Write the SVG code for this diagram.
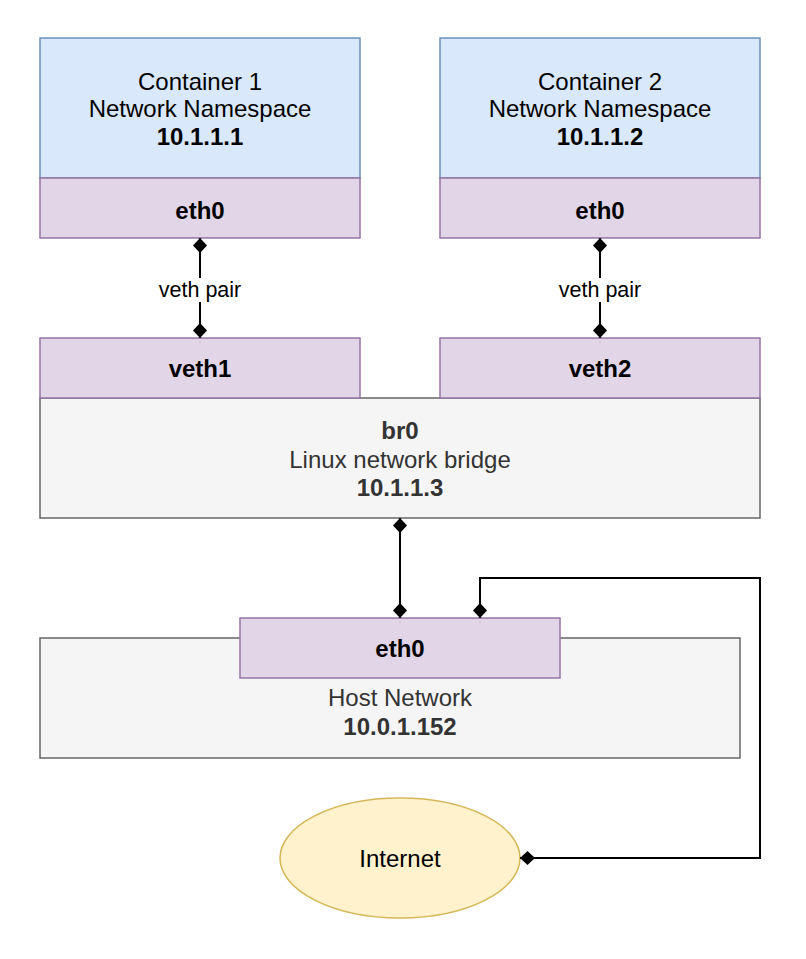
<svg xmlns="http://www.w3.org/2000/svg" width="806" height="959" viewBox="0 0 806 959">
<style>
text{font-family:"Liberation Sans",Arial,sans-serif;font-size:24px;text-anchor:middle;dominant-baseline:central;fill:#000}
.b{font-weight:bold}
.g{fill:#333333}
.blue{fill:#dae8fc;stroke:#6c8ebf;stroke-width:1.5}
.pur{fill:#e1d5e7;stroke:#9673a6;stroke-width:1.5}
.grey{fill:#f5f5f5;stroke:#666666;stroke-width:1.5}
.yel{fill:#fff2cc;stroke:#d6b656;stroke-width:1.5}
.edge{fill:none;stroke:#000;stroke-width:2}
.lbl{font-size:21.5px}
</style>
<defs>
<marker id="dia" viewBox="0 0 15 14" refX="15" refY="7" markerWidth="15" markerHeight="14" markerUnits="userSpaceOnUse" orient="auto-start-reverse">
<path d="M0,7 L7.5,0 L15,7 L7.5,14 Z" fill="#000"/>
</marker>
</defs>
<rect width="806" height="959" fill="#fff"/>
<g id="container1">
<rect class="blue" x="40" y="38" width="320" height="140"/>
<text x="200" y="81">Container 1</text>
<text x="200" y="108">Network Namespace</text>
<text class="b" x="200" y="136">10.1.1.1</text>
</g>
<g id="c1-eth0">
<rect class="pur" x="40" y="178" width="320" height="60"/>
<text class="b" x="200" y="210">eth0</text>
</g>
<g id="container2">
<rect class="blue" x="440" y="38" width="320" height="140"/>
<text x="600" y="81">Container 2</text>
<text x="600" y="108">Network Namespace</text>
<text class="b" x="600" y="136">10.1.1.2</text>
</g>
<g id="c2-eth0">
<rect class="pur" x="440" y="178" width="320" height="60"/>
<text class="b" x="600" y="210">eth0</text>
</g>
<g id="br0">
<rect class="grey" x="40" y="398" width="720" height="120"/>
<text class="b g" x="400" y="430">br0</text>
<text class="g" x="400" y="459">Linux network bridge</text>
<text class="b g" x="400" y="487">10.1.1.3</text>
</g>
<g id="veth1">
<rect class="pur" x="40" y="338" width="320" height="60"/>
<text class="b" x="200" y="368">veth1</text>
</g>
<g id="veth2">
<rect class="pur" x="440" y="338" width="320" height="60"/>
<text class="b" x="600" y="368">veth2</text>
</g>
<g id="host">
<rect class="grey" x="40" y="638" width="700" height="120"/>
<text class="g" x="400" y="697">Host Network</text>
<text class="b g" x="400" y="726">10.0.1.152</text>
</g>
<g id="host-eth0">
<rect class="pur" x="240" y="618" width="320" height="60"/>
<text class="b" x="400" y="648">eth0</text>
</g>
<g id="internet">
<ellipse class="yel" cx="400" cy="858" rx="120" ry="60"/>
<text x="400" y="858">Internet</text>
</g>
<g id="connectors">
<path class="edge" d="M200,238 L200,338" marker-start="url(#dia)" marker-end="url(#dia)"/>
<rect x="155" y="278" width="90" height="24" fill="#fff"/>
<text class="lbl" x="200" y="290">veth pair</text>
<path class="edge" d="M600,238 L600,338" marker-start="url(#dia)" marker-end="url(#dia)"/>
<rect x="555" y="278" width="90" height="24" fill="#fff"/>
<text class="lbl" x="600" y="290">veth pair</text>
<path class="edge" d="M400,518 L400,618" marker-start="url(#dia)" marker-end="url(#dia)"/>
<path class="edge" d="M520,858 L760,858 L760,578 L480,578 L480,618" marker-start="url(#dia)" marker-end="url(#dia)"/>
</g>
</svg>
